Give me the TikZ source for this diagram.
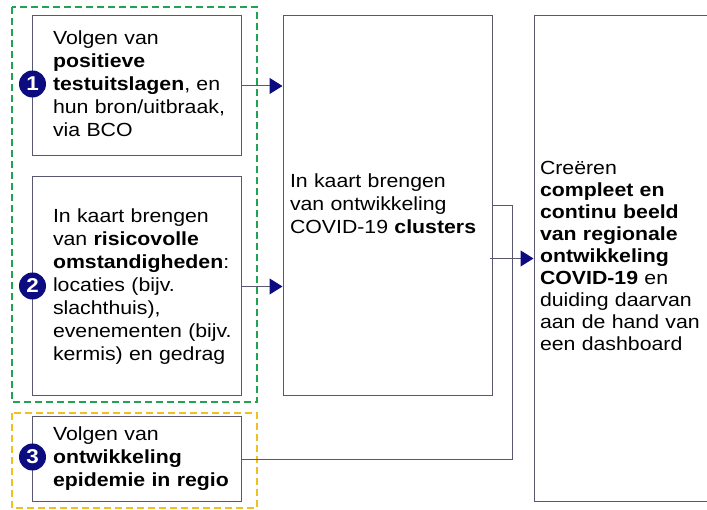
\documentclass[tikz,border=0pt]{standalone}
\usepackage{fontspec}
\setmainfont[FakeStretch=1.12]{Liberation Sans}
\usetikzlibrary{arrows.meta}
\definecolor{navy}{RGB}{12,12,128}
\definecolor{framegray}{RGB}{88,88,112}
\definecolor{groupgreen}{RGB}{32,164,84}
\definecolor{groupyellow}{RGB}{238,192,32}
\hfuzz=60pt
\newcommand{\textlines}[1]{\begin{tabular}{@{}l@{}}#1\end{tabular}}
\tikzset{
  box/.style={draw=framegray, line width=1pt, align=left, inner ysep=0pt,
    font=\fontsize{19}{23}\selectfont},
  badge/.style={shape=circle, fill=navy, text=white, inner sep=0pt,
    minimum size=27pt, font=\fontsize{20}{20}\selectfont\bfseries},
  arr/.style={draw=framegray, line width=1pt,
    -{Triangle[length=13pt,width=16pt,color=navy]}},
  link/.style={draw=framegray, line width=1pt},
  group/.style={line width=2.5pt, dash pattern=on 7pt off 4pt}
}
\begin{document}
\begin{tikzpicture}[x=1pt,y=-1pt]
    \useasboundingbox (0,0) rectangle (707,510);

    \draw[group, groupgreen] (12,7) rectangle (257,402);
    \draw[group, groupyellow] (12,413) rectangle (257,508);

    \node[box, text width=167pt, inner xsep=21pt, minimum height=140pt] (A) at (136.5,86)
        {\textlines{Volgen van\\ \textbf{positieve}\\ \textbf{testuitslagen}, en\\ hun bron/uitbraak,\\ via BCO}};
    \node[box, text width=167pt, inner xsep=21pt, minimum height=219pt] (B) at (136.5,286.5)
        {\textlines{In kaart brengen\\ van \textbf{risicovolle}\\ \textbf{omstandigheden}:\\ locaties (bijv.\\ slachthuis),\\ evenementen (bijv.\\ kermis) en gedrag}};
    \node[box, text width=167pt, inner xsep=21pt, minimum height=84pt] (C) at (136.5,459)
        {\textlines{Volgen van\\ \textbf{ontwikkeling}\\ \textbf{epidemie in regio}}};
    \node[box, text width=195pt, inner xsep=7pt, minimum height=380pt] (M) at (387.5,206)
        {\textlines{In kaart brengen\\ van ontwikkeling\\ COVID-19 \textbf{clusters}}};
    \node[box, text width=166pt, inner xsep=6pt, minimum height=485pt,
          font=\fontsize{19}{22}\selectfont] (R) at (623,258.5)
        {\textlines{Creëren\\ \textbf{compleet en}\\ \textbf{continu beeld}\\ \textbf{van regionale}\\ \textbf{ontwikkeling}\\ \textbf{COVID-19} en\\ duiding daarvan\\ aan de hand van\\ een dashboard}};

    \node[badge] (N1) at (32.5,84) {1};
    \node[badge] (N2) at (32.5,286) {2};
    \node[badge] (N3) at (32.5,457) {3};

    \coordinate (J) at (512,206);

    \draw[arr] (A.east) -- (A.east -| M.west);
    \draw[arr] (B.east) -- (B.east -| M.west);
    \draw[link] (M.east) -- (J) |- (C.east);
    \draw[arr] ([xshift=-3pt]M.east |- R.west) -- (R.west);
\end{tikzpicture}
\end{document}
